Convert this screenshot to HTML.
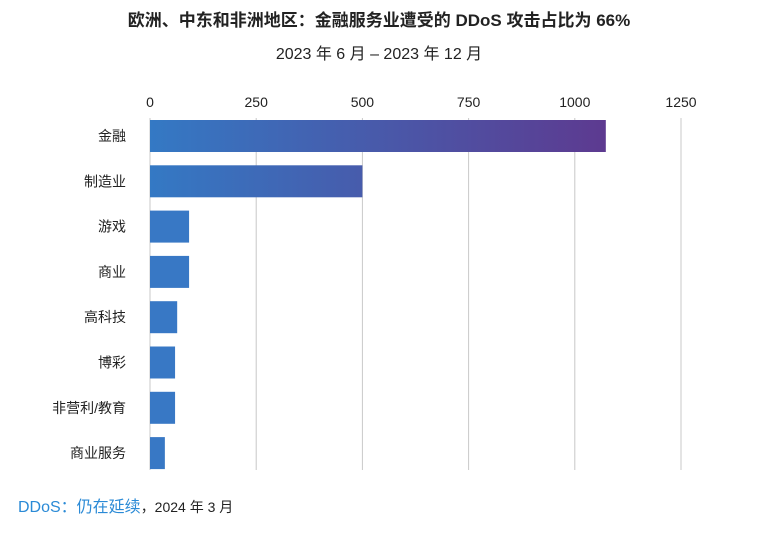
<!DOCTYPE html>
<html><head><meta charset="utf-8"><style>
body{margin:0;background:#fff;font-family:"Liberation Sans","Noto Sans CJK SC",sans-serif}
svg text{font-family:"Liberation Sans","Noto Sans CJK SC",sans-serif}
</style></head><body>
<svg id="chart" width="759" height="532" viewBox="0 0 759 532">
<defs><linearGradient id="g" gradientUnits="userSpaceOnUse" x1="150" y1="0" x2="606" y2="0"><stop offset="0" stop-color="#3479c4"/><stop offset="1" stop-color="#5d3a90"/></linearGradient></defs>
<text x="379" y="26" text-anchor="middle" font-size="17" font-weight="bold" fill="#222">欧洲、中东和非洲地区：金融服务业遭受的 DDoS 攻击占比为 66%</text>
<text x="379" y="59" text-anchor="middle" font-size="16" fill="#222">2023 年 6 月 – 2023 年 12 月</text>
<g id="grid"></g><g id="bars"></g>
<text x="18" y="512" font-size="16" fill="#2a8ad6">DDoS：仍在延续<tspan fill="#222" font-size="14">，2024 年 3 月</tspan></text>
</svg>
<script>
const categories=["金融","制造业","游戏","商业","高科技","博彩","非营利/教育","商业服务"];
const values=[1073,500,92,92,64,59,59,35];
const ticks=[0,250,500,750,1000,1250];
const NS="http://www.w3.org/2000/svg";
const x=v=>150+v*(681-150)/1250;
const y=i=>120+i*45.3;
const grid=document.getElementById('grid'),bars=document.getElementById('bars');
function mk(t,a,p){const e=document.createElementNS(NS,t);for(const k in a)e.setAttribute(k,a[k]);p.appendChild(e);return e;}
ticks.forEach(t=>{
 const l=mk('line',{x1:x(t),x2:x(t),y1:118,y2:470,stroke:'#c8c8c8','stroke-width':1},grid);
 
 
 const tx=mk('text',{x:x(t),y:107,'text-anchor':'middle','font-size':14,fill:'#222'},grid);
 tx.textContent=t;
 
 
});
categories.forEach((c,i)=>{
 const grad=values[i]>=300;
 const r=mk('rect',{x:150,y:y(i),width:x(values[i])-150,height:32,fill:grad?'url(#g)':'#3878c5'},bars);
 
 
 const tx=mk('text',{x:126,y:y(i)+21,'text-anchor':'end','font-size':14,fill:'#222'},bars);
 tx.textContent=c;
 
 
});
</script>
</body></html>
